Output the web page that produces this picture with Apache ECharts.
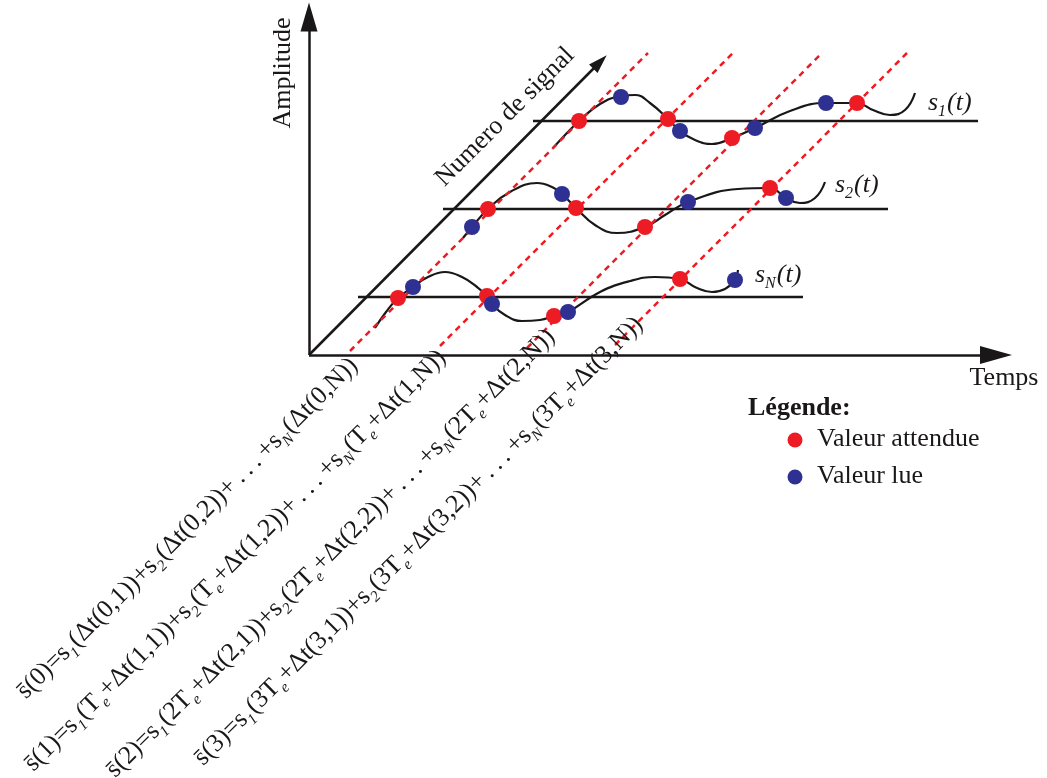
<!DOCTYPE html>
<html><head><meta charset="utf-8">
<script src="https://cdn.jsdelivr.net/npm/echarts@6/dist/echarts.min.js"></script>
<style>html,body{margin:0;padding:0;background:#fff}#c{width:1047px;height:778px}</style>
</head><body><div id="c"></div>
<script>
// ---- diagram data (drawing units = picture pixels, mapped through value axes) ----
const axisOrigin = [309, 355];
const amplitudeAxisEnd = [309, 17];
const timeAxisEnd = [996, 355];
const signalAxisEnd = [600, 62];

const baselineS1 = [[533, 121], [978, 121]];
const baselineS2 = [[443, 209], [888, 209]];
const baselineSN = [[358, 297], [803, 297]];

const sampleLine0 = [[350, 351], [648, 53]];
const sampleLine1 = [[440, 346], [733, 53]];
const sampleLine2 = [[527, 348], [822, 53]];
const sampleLine3 = [[615, 345], [907, 53]];

const curveS1 = [[553,148],[566,134],[579,121],[600,104],[621,96],[635,95],[650,103],[668,119],[680,131],[695,140],[712,144],[732,138],[755,128],[790,111],[826,103],[857,103],[873,110],[890,115],[905,110],[915,93]];
const curveS2 = [[463,238],[472,227],[488,209],[510,192],[537,183],[552,187],[562,194],[576,208],[595,225],[617,233],[645,227],[665,215],[688,202],[738,189],[770,188],[786,198],[800,203],[815,198],[825,182]];
const curveSN = [[375,328],[386,312],[398,298],[413,287],[428,277],[445,272],[462,277],[477,287],[487,296],[492,304],[505,315],[522,321],[540,320],[554,316],[568,312],[600,292],[630,281],[655,277],[680,279],[697,288],[712,292],[725,289],[735,280],[738,270]];

const expectedValues = [[579,121],[668,119],[732,138],[857,103],[488,209],[576,208],[645,227],[770,188],[398,298],[487,296],[554,316],[680,279]];
const readValues = [[621,97],[680,131],[755,128],[826,103],[472,227],[562,194],[688,202],[786,198],[413,287],[492,304],[568,312],[735,280]];

const signalNames = ['1', '2', 'N'];
const signalLabelAt = [[928,103],[835,185],[755,275]];

const sampleIndex = ['0', '1', '2', '3'];
const sampleMultiple = ['', 'T', '2T', '3T'];
const formulaEnd = [[354,362],[442,354],[551,333],[639,321]];

const legendItems = ['Valeur attendue', 'Valeur lue'];
const legendDotAt = [[795,440],[795,477]];

// ---- styles ----
const ink = '#1a1718';
const red = '#ed1c24';
const blue = '#2e3192';
const serif = '"Liberation Serif", "Times New Roman", serif';

function seg(data, color, width, type, z) {
  return { type: 'line', data: data, symbol: 'none', silent: true, z: z,
    lineStyle: { color: color, width: width, type: type || 'solid' } };
}
function curve(data) {
  return { type: 'line', data: data, symbol: 'none', silent: true, z: 4, smooth: 0.45,
    lineStyle: { color: ink, width: 2.2 } };
}
function arrow(from, to, size) {
  return { type: 'line', data: [], silent: true, z: 3,
    markLine: { silent: true, animation: false, symbol: ['none', 'triangle'], symbolSize: size,
      label: { show: false }, lineStyle: { color: ink, width: 2.5, type: 'solid', opacity: 1 },
      data: [[{ coord: from }, { coord: to }]] } };
}
function dots(data, color, size) {
  return { type: 'scatter', data: data, symbolSize: size, itemStyle: { color: color, opacity: 1 }, z: 8, silent: true };
}
function textPoint(pos, formatter, label) {
  return { type: 'scatter', silent: true, z: 10, symbolSize: 1,
    itemStyle: { color: 'rgba(0,0,0,0)', opacity: 1 },
    data: [pos],
    label: Object.assign({ show: true, position: 'inside', formatter: formatter, color: ink, opacity: 1,
      fontFamily: serif, fontSize: 26 }, label) };
}

function formula(k) {
  const m = sampleMultiple[k];
  const grp = (j) => m === '' ? '{m|(\u0394t(' + sampleIndex[k] + ',' + j + '))}'
    : '{m|(' + m + '}{sub|e}{m|+\u0394t(' + sampleIndex[k] + ',' + j + '))}';
  return '{m|s\u0304(' + sampleIndex[k] + ')=s}{sub|1}' + grp('1') + '{m|+s}{sub|2}' + grp('2') +
    '{m|+\u2009.\u2009.\u2009.\u2009+s}{sub|N}' + grp('N');
}

const formulaRich = {
  m: { fontFamily: serif, fontSize: 25.6, color: ink, lineHeight: 36 },
  sub: { fontFamily: serif, fontSize: 15.5, fontStyle: 'italic', color: ink, lineHeight: 18, padding: [18, 1, 0, 0] }
};
const italicRich = {
  i: { fontFamily: serif, fontSize: 26, fontStyle: 'italic', color: ink, lineHeight: 36 },
  sub: { fontFamily: serif, fontSize: 16, fontStyle: 'italic', color: ink, lineHeight: 18, padding: [18, 1, 0, 0] }
};

const series = [];
series.push(arrow(axisOrigin, amplitudeAxisEnd, [17, 29]));
series.push(arrow(axisOrigin, timeAxisEnd, [18, 32]));
series.push(arrow(axisOrigin, signalAxisEnd, [12, 19]));
[baselineS1, baselineS2, baselineSN].forEach(b => series.push(seg(b, ink, 2.5, 'solid', 2)));
[sampleLine0, sampleLine1, sampleLine2, sampleLine3].forEach(d => series.push(seg(d, red, 2.5, [6, 5], 5)));
[curveS1, curveS2, curveSN].forEach(c => series.push(curve(c)));
series.push(dots(expectedValues, red, 16));
series.push(dots(readValues, blue, 16));
series.push(dots(legendDotAt.slice(0, 1), red, 15));
series.push(dots(legendDotAt.slice(1, 2), blue, 15));

signalNames.forEach((n, i) => series.push(textPoint(signalLabelAt[i], '{i|s}{sub|' + n + '}{i|(t)}',
  { align: 'left', verticalAlign: 'middle', rich: italicRich })));
sampleIndex.forEach((s, k) => series.push(textPoint(formulaEnd[k], formula(k),
  { align: 'right', verticalAlign: 'middle', rotate: 45, rich: formulaRich })));

series.push(textPoint([283, 73], 'Amplitude', { align: 'center', verticalAlign: 'middle', rotate: 90 }));
series.push(textPoint([505, 117], 'Numero de signal', { align: 'center', verticalAlign: 'middle', rotate: 45 }));
series.push(textPoint([1004, 378], 'Temps', { align: 'center', verticalAlign: 'middle' }));
series.push(textPoint([748, 408], 'Légende:', { align: 'left', verticalAlign: 'middle', fontWeight: 'bold' }));
legendItems.forEach((t, i) => series.push(textPoint([817, legendDotAt[i][1] - 1], t, { align: 'left', verticalAlign: 'middle' })));

const chart = echarts.init(document.getElementById('c'), null, { renderer: 'canvas' });
chart.setOption({
  animation: false,
  backgroundColor: '#ffffff',
  grid: { left: 0, right: 0, top: 0, bottom: 0 },
  xAxis: { type: 'value', min: 0, max: 1047, show: false },
  yAxis: { type: 'value', min: 0, max: 778, inverse: true, show: false },
  series: series
});
</script></body></html>
